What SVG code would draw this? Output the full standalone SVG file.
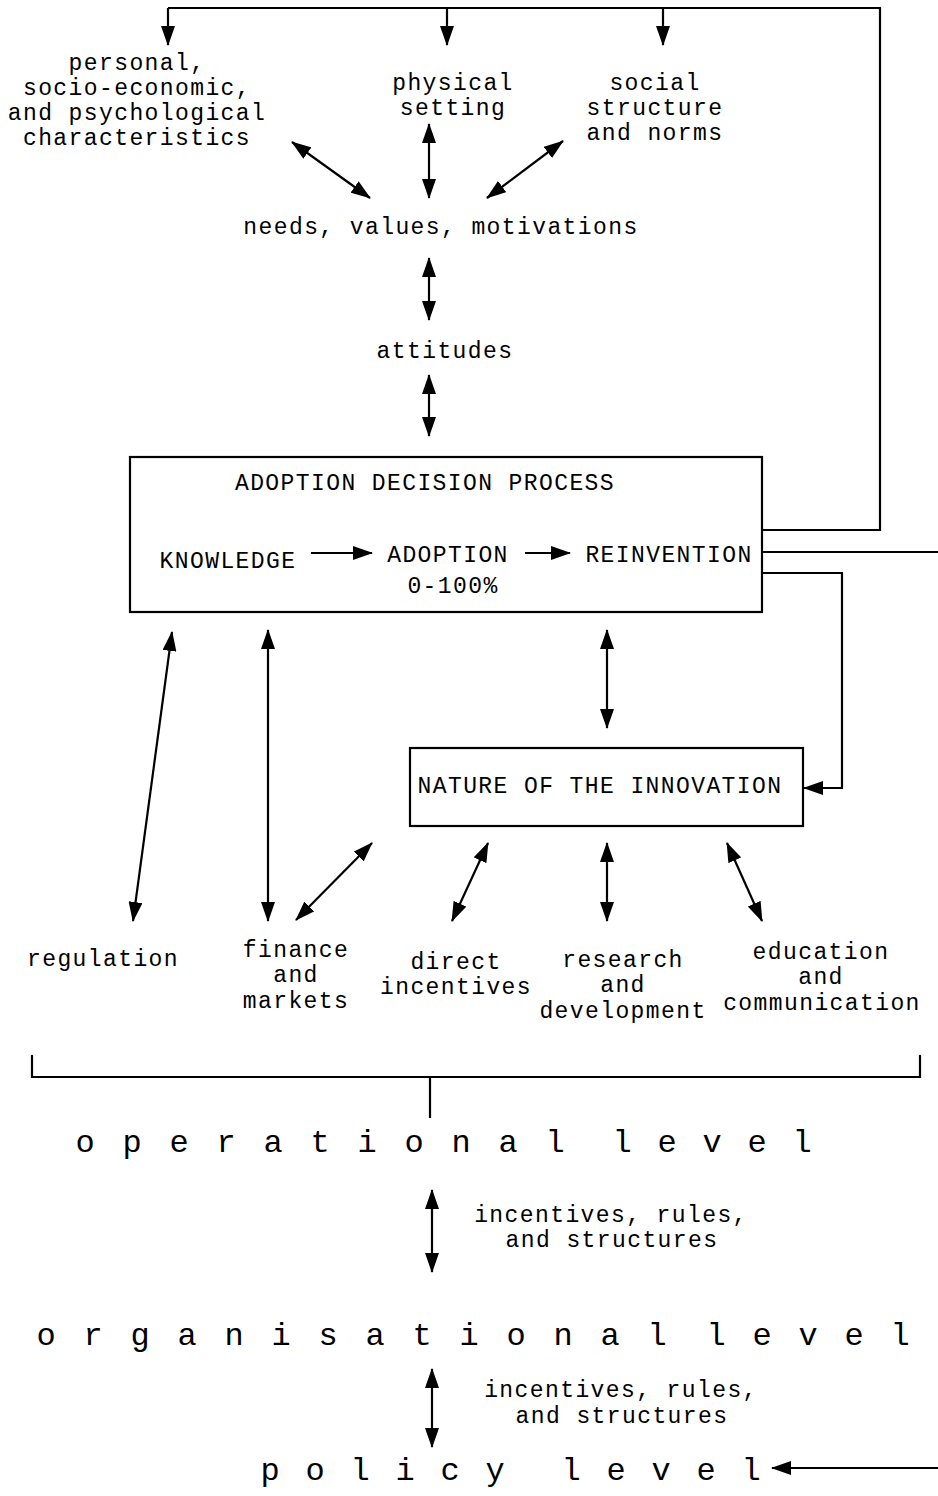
<svg xmlns="http://www.w3.org/2000/svg" width="938" height="1496" viewBox="0 0 938 1496">
<defs>
<marker id="ah" markerUnits="userSpaceOnUse" markerWidth="20" markerHeight="14" refX="19" refY="7" orient="auto-start-reverse">
<path d="M0,0 L20,7 L0,14 z" fill="#000"/>
</marker>
<style>
.t{font-family:"Liberation Mono","DejaVu Sans Mono",monospace;font-size:23px;letter-spacing:1.4px;text-anchor:middle;fill:#000}
.L{font-family:"Liberation Mono","DejaVu Sans Mono",monospace;font-size:32px;text-anchor:middle;fill:#000}
.ln{stroke:#000;stroke-width:2.2;fill:none}
.d{marker-start:url(#ah);marker-end:url(#ah)}
.s{marker-end:url(#ah)}
.box{fill:#fff;stroke:#000;stroke-width:2.2}
</style>
</defs>
<rect width="938" height="1496" fill="#fff"/>
<g id="personal">
<text class="t" x="137" y="70">personal,</text>
<text class="t" x="137" y="95">socio-economic,</text>
<text class="t" x="137" y="120">and psychological</text>
<text class="t" x="137" y="145">characteristics</text>
</g>
<g id="physical">
<text class="t" x="453" y="90">physical</text>
<text class="t" x="453" y="115">setting</text>
</g>
<g id="social">
<text class="t" x="655" y="90">social</text>
<text class="t" x="655" y="115">structure</text>
<text class="t" x="655" y="140">and norms</text>
</g>
<g id="needs"><text class="t" x="441" y="234">needs, values, motivations</text></g>
<g id="attitudes"><text class="t" x="445" y="358">attitudes</text></g>
<g id="adoption-process">
<rect class="box" x="130" y="457" width="632" height="155"/>
<text class="t" x="425" y="490">ADOPTION DECISION PROCESS</text>
<text class="t" x="228" y="568">KNOWLEDGE</text>
<text class="t" x="448" y="562">ADOPTION</text>
<text class="t" x="453" y="593">0-100%</text>
<text class="t" x="669" y="562">REINVENTION</text>
</g>
<g id="innovation">
<rect class="box" x="410" y="748" width="393" height="78"/>
<text class="t" x="600" y="793">NATURE OF THE INNOVATION</text>
</g>
<g id="regulation"><text class="t" x="103" y="966">regulation</text></g>
<g id="finance">
<text class="t" x="296" y="957">finance</text>
<text class="t" x="296" y="982">and</text>
<text class="t" x="296" y="1008">markets</text>
</g>
<g id="direct">
<text class="t" x="456" y="969">direct</text>
<text class="t" x="456" y="994">incentives</text>
</g>
<g id="research">
<text class="t" x="623" y="967">research</text>
<text class="t" x="623" y="992">and</text>
<text class="t" x="623" y="1018">development</text>
</g>
<g id="education">
<text class="t" x="821" y="959">education</text>
<text class="t" x="821" y="984">and</text>
<text class="t" x="822" y="1010">communication</text>
</g>
<g id="operational">
<text class="L" x="85 132 179 226 273 320 367 414 461 508 555 588 622 667 712 757 802" y="1152">operational level</text>
</g>
<g id="label1">
<text class="t" x="611" y="1222">incentives, rules,</text>
<text class="t" x="612" y="1247">and structures</text>
</g>
<g id="organisational">
<text class="L" x="46 93 140 187 234 281 328 375 422 469 516 563 610 657 686 716 762 808 854 900" y="1345">organisational level</text>
</g>
<g id="label2">
<text class="t" x="621" y="1397">incentives, rules,</text>
<text class="t" x="622" y="1423">and structures</text>
</g>
<g id="policy">
<text class="L" x="270 315 360 405 450 495 533 571 616 661 706 751" y="1480">policy level</text>
</g>
<g id="connectors">
<path class="ln" d="M168,8 H880 V530 H762"/>
<line class="ln s" x1="168" y1="8" x2="168" y2="45"/>
<line class="ln s" x1="447" y1="8" x2="447" y2="45"/>
<line class="ln s" x1="663" y1="8" x2="663" y2="45"/>
<line class="ln d" x1="292" y1="142" x2="370" y2="198"/>
<line class="ln d" x1="429" y1="124" x2="429" y2="198"/>
<line class="ln d" x1="563" y1="141" x2="487" y2="198"/>
<line class="ln d" x1="429" y1="258" x2="429" y2="320"/>
<line class="ln d" x1="429" y1="375" x2="429" y2="436"/>
<line class="ln s" x1="311" y1="553" x2="372" y2="553"/>
<line class="ln s" x1="525" y1="553" x2="570" y2="553"/>
<line class="ln" x1="762" y1="552" x2="938" y2="552"/>
<path class="ln s" d="M762,573 H842 V788 H804"/>
<line class="ln d" x1="172" y1="632" x2="133" y2="921"/>
<line class="ln d" x1="268" y1="630" x2="268" y2="921"/>
<line class="ln d" x1="607" y1="630" x2="607" y2="728"/>
<line class="ln d" x1="296" y1="920" x2="372" y2="843"/>
<line class="ln d" x1="488" y1="843" x2="452" y2="921"/>
<line class="ln d" x1="607" y1="843" x2="607" y2="921"/>
<line class="ln d" x1="727" y1="843" x2="762" y2="921"/>
<path class="ln" d="M32,1055 V1077 H920 V1055 M430,1077 V1118"/>
<line class="ln d" x1="432" y1="1190" x2="432" y2="1272"/>
<line class="ln d" x1="432" y1="1369" x2="432" y2="1447"/>
<line class="ln s" x1="938" y1="1468" x2="772" y2="1468"/>
</g>
</svg>
